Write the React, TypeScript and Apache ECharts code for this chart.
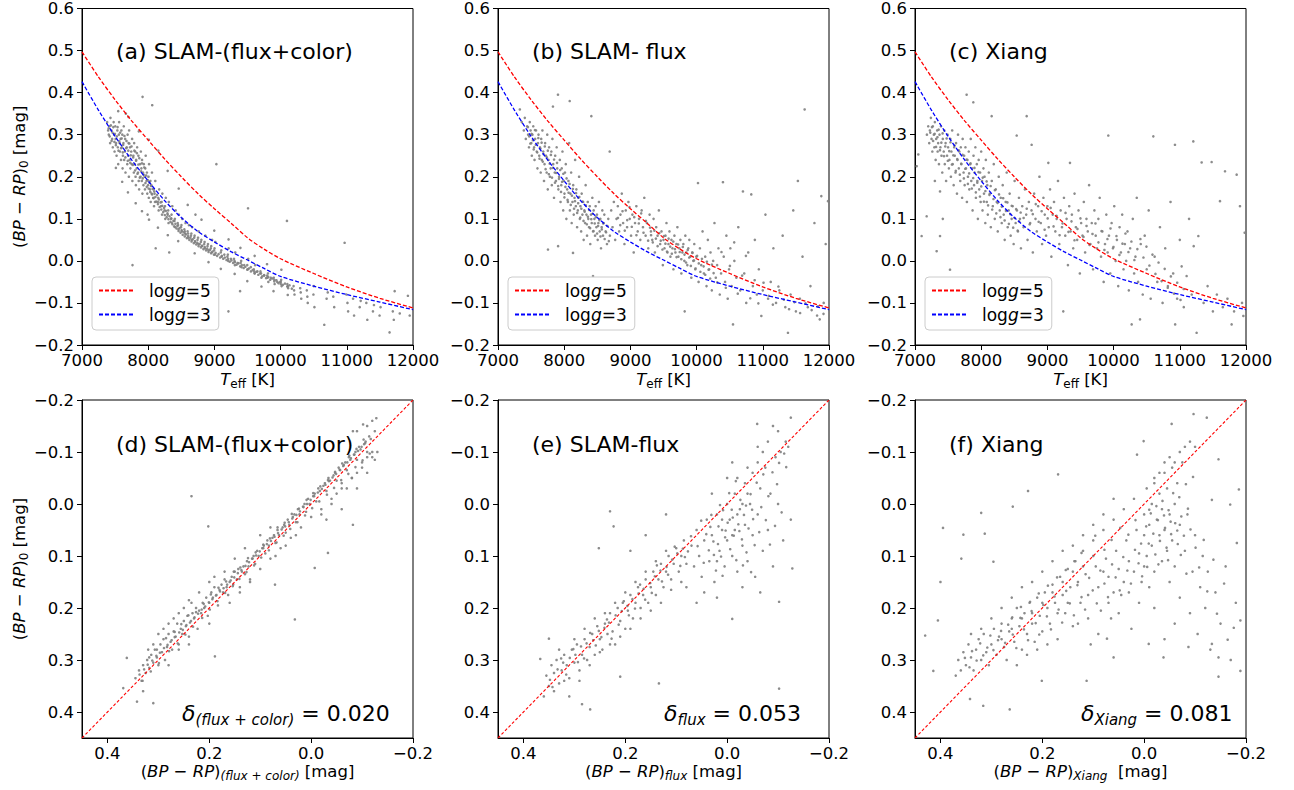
import React, { useEffect, useRef } from "react";
import * as echarts from "echarts";

const FONT = "'DejaVu Sans', Verdana, sans-serif";

// ---- axis ticks ----
const teffTicks = [7000, 8000, 9000, 10000, 11000, 12000];
const topColorTicks = [-0.2, -0.1, 0, 0.1, 0.2, 0.3, 0.4, 0.5, 0.6];
const botYTicks = [-0.2, -0.1, 0, 0.1, 0.2, 0.3, 0.4];
const botXTicks = [-0.2, 0, 0.2, 0.4];

// ---- model curves ----
const curveTeff = [7000, 7250, 7500, 7750, 8000, 8250, 8500, 8750, 9000, 9250, 9500, 9750, 10000, 10500, 11000, 11500, 12000];
const logg5Color = [0.497, 0.437, 0.383, 0.333, 0.287, 0.242, 0.2, 0.16, 0.124, 0.09, 0.055, 0.028, 0.005, -0.03, -0.062, -0.089, -0.112];
const logg3Color = [0.426, 0.358, 0.296, 0.24, 0.19, 0.143, 0.103, 0.07, 0.045, 0.022, 0.002, -0.018, -0.037, -0.06, -0.08, -0.098, -0.116];
const diagX = [0.45, -0.2];
const diagY = [0.45, -0.2];

// ---- panel texts ----
const panelTitles = ["(a) SLAM-(flux+color)", "(b) SLAM- flux", "(c) Xiang", "(d) SLAM-(flux+color)", "(e) SLAM-flux", "(f) Xiang"];
const deltaSubs = ["(flux + color)", "flux", "Xiang"];
const deltaValues = ["0.020", "0.053", "0.081"];
const xSubs = ["(flux + color)", "flux", "Xiang"];

// ---- (a) SLAM-(flux+color): [Teff, (BP-RP)0] ----
const scatterA = [
  [7380,.33],[7395,.31],[7405,.30],[7415,.32],[7425,.28],[7430,.34],[7445,.31],[7455,.29],[7465,.27],[7478,.33],[7485,.30],[7492,.26],[7503,.32],[7508,.29],[7515,.28],[7522,.25],[7534,.31],[7541,.27],[7547,.23],[7556,.30],[7561,.33],[7568,.28],[7574,.26],[7583,.29],[7589,.24],[7595,.31],[7604,.27],[7609,.30],[7613,.22],[7618,.25],[7626,.28],[7631,.32],[7637,.24],[7648,.26],[7652,.29],[7657,.21],[7663,.35],[7676,.27],[7684,.23],[7689,.30],[7697,.25],[7703,.28],[7708,.20],[7712,.31],[7719,.24],[7725,.27],[7731,.22],[7744,.26],[7752,.23],[7757,.29],[7761,.19],[7763,-.01],[7776,.25],[7783,.21],[7788,.28],[7796,.23],[7804,.26],[7809,.20],[7814,.18],[7818,.24],[7826,.22],[7833,.27],[7846,.21],[7852,.25],[7857,.19],[7863,.17],[7877,.23],[7884,.20],[7889,.26],[7897,.22],[7903,.19],[7907,.24],[7912,.16],[7915,.39],[7922,.21],[7928,.18],[7934,.23],[7946,.20],[7951,.17],[7956,.22],[7962,.25],[7975,.19],[7981,.21],[7986,.16],[7991,.11],[7998,.18],[8004,.20],[8009,.15],[8013,.23],[8027,.17],[8033,.19],[8038,.14],[8048,.18],[8052,.16],[8057,.21],[8061,.37],[8076,.15],[8083,.17],[8088,.13],[8096,.16],[8103,.14],[8107,.19],[8113,.03],[8145,.14],[8152,.15],[8158,.12],[8166,.17],[8195,.13],[8203,.14],[8209,.11],[8214,.16],[8246,.12],[8253,.13],[8258,.10],[8266,.15],[8294,.11],[8302,.12],[8307,.09],[8312,.14],[8318,.02],[8345,.10],[8353,.11],[8358,.09],[8364,.13],[8396,.095],[8403,.10],[8408,.08],[8415,.12],[8446,.09],[8452,.085],[8457,.075],[8463,.11],[8496,.08],[8502,.085],[8507,.07],[8514,.10],[8546,.075],[8553,.07],[8558,.065],[8564,.09],[8595,.07],[8603,.065],[8608,.055],[8615,.085],[8646,.06],[8652,.065],[8657,.05],[8664,.08],[8695,.055],[8701,.06],[8708,.045],[8714,.11],[8745,.05],[8753,.055],[8758,.04],[8764,.07],[8796,.045],[8803,.05],[8809,.035],[8846,.04],[8852,.045],[8858,.03],[8864,.06],[8896,.035],[8903,.04],[8909,.025],[8946,.03],[8952,.035],[8958,.02],[8965,.05],[8996,.025],[9002,.03],[9008,.015],[9014,.045],[9030,.23],[9096,.02],[9104,.025],[9110,.01],[9150,.015],[9196,.01],[9203,.015],[9208,.0],[9212,-.12],[9215,.03],[9250,.005],[9296,.005],[9303,.0],[9309,-.01],[9315,.02],[9350,-.005],[9388,-.072],[9396,-.005],[9404,.0],[9410,-.015],[9450,-.01],[9496,-.01],[9503,-.02],[9508,.125],[9511,.005],[9550,-.015],[9596,-.02],[9603,-.025],[9609,-.03],[9615,-.01],[9650,-.025],[9696,-.025],[9704,-.03],[9710,-.04],[9750,-.035],[9796,-.035],[9803,-.04],[9809,-.03],[9815,-.05],[9850,-.04],[9896,-.04],[9904,-.045],[9910,-.055],[9950,-.05],[9996,-.05],[10003,-.055],[10009,-.045],[10015,-.06],[10096,.095],[10102,-.055],[10108,-.06],[10114,-.065],[10196,-.06],[10204,-.07],[10210,-.08],[10296,-.065],[10304,-.075],[10312,-.09],[10396,-.07],[10404,-.085],[10410,-.1],[10496,-.08],[10503,-.06],[10511,-.11],[10660,-.152],[10695,-.09],[10712,-.075],[10796,-.085],[10810,-.11],[10967,.043],[10995,-.08],[11010,-.1],[11020,-.12],[11095,-.09],[11110,-.13],[11195,-.11],[11210,-.095],[11295,-.1],[11310,-.14],[11395,-.12],[11410,-.105],[11495,-.13],[11510,-.11],[11646,-.17],[11695,-.12],[11710,-.14],[11723,-.072],[11800,-.125],[11923,-.083],[11950,-.13]
];
const denseA = [
  [7402,.315],[7418,.296],[7436,.322],[7447,.285],[7461,.305],[7473,.318],[7489,.283],[7497,.302],[7512,.275],[7527,.296],[7538,.318],[7551,.262],[7563,.284],[7577,.305],[7591,.268],[7599,.291],[7616,.258],[7622,.276],[7641,.297],[7655,.246],[7668,.268],[7672,.285],[7691,.238],[7699,.262],[7716,.279],[7729,.233],[7737,.251],[7748,.272],[7769,.228],[7773,.246],[7791,.262],[7802,.215],[7817,.238],[7829,.256],[7838,.207],[7851,.229],[7866,.244],[7873,.198],[7893,.213],[7906,.232],[7917,.196],[7931,.205],[7941,.222],[7958,.185],[7969,.203],[7978,.176],[7994,.192],[8007,.172],[8019,.186],[8031,.164],[8043,.178],[8059,.158],[8068,.171],[8081,.149],[8092,.165],[8109,.152],[8121,.141],[8134,.157],[8147,.135],[8161,.146],[8173,.128],[8186,.139],[8198,.122],[8212,.131],[8227,.116],[8239,.126],[8251,.109],[8268,.119],[8279,.104],[8291,.113],[8306,.099],[8322,.106],[8336,.093],[8349,.101],[8367,.087],[8381,.095],[8392,.082],[8411,.088],[8428,.077],[8441,.083],[8459,.071],[8473,.078],[8488,.067],[8505,.073],[8521,.062],[8536,.068],[8552,.058],[8569,.063],[8584,.054],[8602,.059],[8621,.05],[8637,.055],[8655,.046],[8672,.051],[8689,.042],[8707,.047],[8726,.039],[8741,.043],[8761,.035],[8779,.04],[8797,.032],[8816,.036],[8834,.028],[8853,.033],[8874,.025],[8891,.029],[8912,.021],[8933,.026],[8951,.018],[8972,.022],[8993,.015],[9018,.019],[9041,.012],[9063,.016],[9087,.008],[9112,.012],[9134,.005],[9158,.008],[9183,.002],[9207,.005],[9232,-.002],[9258,.001],[9283,-.005],[9309,-.003],[9335,-.009],[9362,-.006],[9389,-.013],[9415,-.01],[9442,-.017],[9468,-.014],[9497,-.021],[9523,-.018],[9552,-.025],[9578,-.022],[9607,-.029],[9636,-.026],[9664,-.033],[9693,-.03],[9722,-.037],[9752,-.034],[9781,-.041],[9812,-.038],[9843,-.045],[9873,-.042],[9905,-.049],[9936,-.046],[9968,-.053],[10001,-.05],[10034,-.057],[10066,-.054],[10101,-.061],[10135,-.058],[10170,-.066],
  [7512,.221],[7607,.188],[7694,.163],[7811,.137],[7906,.118],[8012,.098],[8147,.079],[8296,.061],[8453,.047],[7547,.356],[7703,.342],[7858,.308],[8009,.288],[8153,.262],[8294,.214],[8461,.172],[8597,.133],[8805,.098],[8998,.072],[9214,.051],[9393,.031],[9608,.012],[9795,-.008],[10012,-.021],[8702,.018],[8911,-.003],[9097,-.019],[9306,-.031],[9497,-.048],[9711,-.061],[9893,-.072],[10108,-.081]
];

// ---- (b) SLAM-flux: [Teff, (BP-RP)0] ----
const scatterB = [
  [7330,.36],[7360,.33],[7390,.31],[7405,.34],[7420,.29],[7440,.32],[7455,.30],[7468,.27],[7480,.33],[7492,.31],[7503,.28],[7511,.25],[7520,.30],[7533,.32],[7545,.27],[7552,.24],[7561,.29],[7574,.31],[7585,.26],[7596,.22],[7604,.28],[7612,.30],[7623,.25],[7634,.27],[7645,.21],[7653,.29],[7662,.24],[7671,.31],[7684,.26],[7695,.19],[7703,.23],[7712,.28],[7724,.25],[7735,.21],[7744,.30],[7752,.17],[7755,.027],[7763,.24],[7772,.27],[7784,.20],[7795,.22],[7806,.26],[7813,.18],[7822,.29],[7830,.367],[7834,.23],[7846,.15],[7857,.21],[7864,.25],[7875,.19],[7886,.27],[7895,.22],[7906,.395],[7908,.035],[7912,.17],[7923,.20],[7934,.24],[7945,.14],[7956,.18],[7963,.22],[7974,.26],[7985,.12],[7993,.19],[8004,.16],[8012,.21],[8024,.23],[8033,.10],[8045,.17],[8056,.14],[8064,.19],[8075,.28],[8083,.38],[8086,.12],[8094,.16],[8105,.21],[8113,.09],[8125,.14],[8133,.019],[8136,.18],[8144,.11],[8156,.15],[8165,.24],[8176,.13],[8184,.17],[8195,.08],[8206,.12],[8214,.15],[8225,.20],[8236,.10],[8245,.13],[8256,.07],[8264,.16],[8275,.11],[8286,.14],[8294,.05],[8305,.12],[8316,.09],[8324,.18],[8336,.11],[8345,.06],[8356,.14],[8364,.10],[8375,.08],[8386,.13],[8394,.04],[8405,.11],[8410,.344],[8416,.09],[8425,.15],[8435,-.036],[8436,.07],[8445,.12],[8456,.10],[8466,.06],[8475,.13],[8486,.08],[8495,.11],[8506,.05],[8516,.09],[8525,.14],[8536,.07],[8546,.10],[8556,.03],[8566,.08],[8576,.12],[8586,.06],[8596,.09],[8606,.11],[8626,.07],[8646,.04],[8666,.10],[8687,.26],[8690,.06],
  [8710,.12],[8730,.08],[8750,.14],[8770,.05],[8790,.10],[8810,.13],[8830,.07],[8850,.11],[8870,.16],[8890,.09],[8910,.04],[8930,.12],[8950,.08],[8970,.14],[8990,.10],[9010,.06],[9030,.11],[9050,.02],[9070,.09],[9090,.13],[9110,.07],[9130,.10],[9150,.05],[9170,.12],[9190,.08],[9210,.15],[9230,.06],[9250,.09],[9270,.03],[9290,.11],[9310,.07],[9330,.05],[9350,.10],[9370,.02],[9390,.08],[9410,.06],[9430,.12],[9450,.04],[9470,.07],[9490,-.01],[9500,.05],[9515,.03],[9530,.06],[9545,.09],[9560,.02],[9575,.04],[9590,.07],[9605,.01],[9620,.05],[9635,.03],[9650,-.02],[9665,.06],[9680,.02],[9695,.04],[9710,.08],[9725,.01],[9740,.03],[9755,.05],[9770,-.03],[9785,.02],[9800,.04],[9815,.0],[9820,-.12],[9830,.06],[9845,.02],[9860,-.01],[9875,.03],[9890,.05],[9905,.01],[9920,-.04],[9935,.02],[9950,.0],[9965,.04],[9980,-.02],[9996,.01],[10021,.185],[10030,-.05],[10050,.03],[10070,-.01],[10090,.07],[10110,-.03],[10130,.01],[10150,-.06],[10170,.05],[10190,-.02],[10210,.02],[10230,-.07],[10250,.0],[10270,.09],[10290,-.04],[10310,-.01],[10330,.03],[10350,-.08],[10370,-.03],[10398,.187],[10410,.01],[10430,-.05],[10450,.06],[10470,-.09],[10490,-.02],[10510,.03],[10530,-.06],[10550,-.151],[10570,.0],[10600,-.04],[10630,.08],[10660,-.07],[10700,.165],[10720,-.03],[10750,-.1],[10780,.02],[10826,.158],[10850,-.06],[10880,.05],[10910,-.08],[10940,-.02],[10978,-.131],[11000,-.07],[11040,.11],[11080,-.09],[11120,-.05],[11160,.03],[11200,-.1],[11250,-.07],[11300,.06],[11340,-.11],[11380,-.171],[11420,-.08],[11460,.12],[11500,-.12],[11530,.19],[11560,-.09],[11600,.01],[11632,.36],[11680,-.11],[11720,-.06],[11780,.09],[11820,-.13],[11860,-.139],[11884,.154],[11920,-.1],[11950,.04],[11985,.142]
];
const denseB = [
  [7452,.318],[7471,.296],[7488,.279],[7506,.302],[7527,.287],[7539,.265],[7558,.311],[7571,.276],[7593,.258],[7609,.292],[7627,.243],[7641,.267],[7659,.281],[7676,.236],[7688,.254],[7707,.272],[7719,.218],[7738,.246],[7753,.262],[7768,.206],[7781,.231],[7799,.252],[7816,.198],[7829,.221],[7847,.241],[7861,.186],[7878,.209],[7892,.233],[7909,.178],[7921,.195],[7939,.216],[7952,.164],[7968,.188],[7987,.207],[8003,.151],[8018,.176],[8036,.196],[8051,.145],[8066,.162],[8081,.183],[8099,.133],[8117,.155],[8131,.171],[8149,.124],[8163,.142],[8179,.161],[8196,.114],[8211,.137],[8228,.152],[8243,.103],[8259,.124],[8277,.141],[8292,.095],[8309,.117],[8327,.132],[8342,.087],[8358,.105],[8377,.121],[8392,.078],[8409,.099],[8428,.112],[8443,.071],[8461,.089],[8479,.104],[8497,.065],[8512,.083],[8531,.097],[8548,.058],[8568,.075],[8589,.089],[8611,.052],[8633,.068],[8652,.083],[8674,.047],
  [9312,.061],[9338,.044],[9362,.072],[9385,.053],[9411,.035],[9437,.066],[9458,.048],[9484,.027],[9506,.059],[9529,.041],[9553,.022],[9577,.053],[9601,.034],[9626,.017],[9648,.046],[9673,.028],[9697,.009],[9721,.039],[9745,.021],[9769,.004],[9792,.033],[9817,.015],[9841,-.004],[9866,.026],[9888,.008],[9913,-.012],[9937,.019],[9961,.001],[9984,-.018],[10008,.012],[10033,-.006],[10057,-.026],[10081,.005],[10106,-.013],[10131,-.033],[10155,-.002],[10181,-.021],[10205,-.042],[10231,-.009],[10257,-.029],
  [8812,.102],[8847,.085],[8881,.118],[8915,.072],[8952,.097],[8986,.128],[9021,.081],[9058,.104],[9091,.061],[9127,.089],[9163,.113],[9198,.067],[9234,.095],[9268,.048],[9297,.079],
  [10312,-.051],[10376,.021],[10441,-.064],[10503,-.012],[10568,.044],[10622,-.078],[10688,-.035],[10745,.012],[10811,-.089],[10877,-.046],[10933,-.101],[11011,-.052],[11089,-.083],[11152,-.104],[11236,-.061],[11318,-.092],[11397,-.115],[11477,-.098],[11564,-.124],[11646,-.101],[11738,-.117],[11834,-.108],[11917,-.126]
];

// ---- (c) Xiang: [Teff, (BP-RP)0] ----
const scatterC = [
  [7025,.225],[7050,.253],[7100,.059],[7176,.106],[7300,.19],[7327,.023],[7378,.059],[7378,.165],[7420,.10],[7529,-.021],
  [7180,.30],[7200,.32],[7215,.28],[7225,.31],[7240,.34],[7250,.29],[7262,.26],[7270,.32],[7285,.30],[7292,.27],[7300,.33],[7312,.24],[7320,.29],[7335,.31],[7342,.26],[7350,.28],[7362,.23],[7370,.30],[7384,.27],[7392,.32],[7400,.25],[7412,.21],[7420,.29],[7434,.26],[7442,.31],[7450,.23],[7462,.28],[7470,.19],[7484,.25],[7492,.30],[7500,.27],[7512,.22],[7520,.24],[7534,.29],[7542,.20],[7550,.26],[7562,.31],[7570,.23],[7584,.18],[7592,.27],[7600,.25],[7612,.21],[7620,.28],[7634,.16],[7642,.24],[7650,.30],[7662,.22],[7670,.26],[7684,.19],[7692,.27],[7700,.23],[7712,.15],[7720,.29],[7734,.21],[7742,.25],[7750,.18],[7762,.27],[7770,.22],[7780,.395],[7784,.14],[7792,.24],[7800,.20],[7812,.26],[7820,.17],[7834,.23],[7842,.29],[7850,.19],[7862,.22],[7870,.12],[7881,.377],[7884,.25],[7892,.18],[7900,.21],[7912,.27],[7920,.15],[7934,.23],[7942,.19],[7950,.10],[7962,.24],[7970,.17],[7984,.21],[7992,.14],[8000,.26],[8012,.19],[8020,.12],[8034,.22],[8042,.16],[8050,.20],[8062,.09],[8070,.24],[8084,.14],[8092,.18],[8100,.11],[8115,.21],[8130,.16],[8145,.08],[8158,.344],[8160,.19],[8175,.13],[8190,.23],[8205,.10],[8220,.17],[8235,.14],[8250,.07],[8265,.20],[8280,.12],[8295,.15],[8310,.09],[8325,.18],[8340,.11],[8355,.05],[8370,.14],[8385,.21],[8400,.08],[8415,.12],[8430,.16],[8445,.06],[8460,.10],[8475,.13],[8490,.04],[8505,.19],[8520,.09],[8536,.298],[8540,.12],[8555,.07],[8570,.15],[8585,.10],[8600,.03],
  [8620,.13],[8640,.08],[8660,.17],[8680,.11],[8687,.344],[8700,.05],[8720,.14],[8740,.09],[8760,.12],[8762,.276],[8780,.02],[8800,.16],[8820,.10],[8840,.07],[8860,.13],[8880,.20],[8900,.09],[8920,.04],[8940,.15],[8960,.11],[8980,.06],[9000,.13],[9014,.233],[9020,.08],[9040,.17],[9060,.01],[9080,.11],[9100,.14],[9120,.07],[9140,.10],[9160,.19],[9180,.04],[9200,.12],[9220,.08],[9240,-.12],[9250,.15],[9270,.06],[9290,.10],[9310,-.01],[9330,.13],[9341,.233],[9350,.07],[9370,.11],[9390,.03],[9410,.16],[9430,.08],[9450,.05],[9470,.12],[9490,-.03],[9510,.09],[9530,.06],[9550,.14],[9570,.02],[9590,.10],[9610,.07],[9630,.18],[9650,.04],[9670,.09],[9690,-.02],[9710,.12],[9730,.06],[9750,.03],[9770,.10],[9790,.15],[9810,.01],[9830,.07],[9850,-.05],[9870,.04],[9890,.11],[9910,.02],[9920,.298],[9930,.06],[9950,-.03],[9970,.09],[9990,.03],[10010,.13],[10030,.0],[10050,.05],[10070,-.06],[10090,.08],[10110,.02],[10130,.11],[10150,-.02],[10170,.04],[10190,.0],[10210,.07],[10230,-.07],[10250,.03],[10273,-.151],[10290,.1],[10310,-.03],[10330,.01],[10350,.15],[10370,-.05],[10399,-.139],[10410,.04],[10440,-.08],[10470,.06],[10500,-.02],[10530,.12],[10560,-.09],[10600,.296],[10620,.01],[10660,-.05],[10700,.08],[10740,-.1],[10780,.03],[10820,-.06],[10860,.14],[10900,-.03],[10927,.276],[10930,-.151],[10960,-.09],[11000,.05],[11028,-.013],[11060,-.11],[11103,-.036],[11140,.1],[11180,-.08],[11204,.284],[11210,.035],[11254,-.171],[11280,.059],[11330,.234],[11360,-.1],[11420,-.06],[11481,.235],[11500,-.12],[11560,-.08],[11607,.142],[11650,-.11],[11683,.213],[11720,-.09],[11783,-.151],[11820,-.12],[11859,.205],[11909,.13],[11940,-.1],[11960,-.131],[11980,.067]
];
const denseC = [
  [7231,.305],[7256,.318],[7274,.285],[7297,.302],[7318,.271],[7339,.294],[7357,.312],[7377,.263],[7398,.281],[7417,.303],[7438,.249],[7457,.272],[7478,.291],[7496,.238],[7517,.261],[7536,.282],[7557,.229],[7578,.251],[7597,.274],[7616,.214],[7638,.242],[7659,.263],[7677,.205],[7698,.231],[7719,.252],[7738,.196],[7759,.219],[7778,.241],[7799,.183],[7818,.208],[7839,.232],[7858,.172],[7879,.197],[7898,.221],[7919,.163],[7941,.186],[7959,.211],[7981,.153],[8001,.177],[8023,.198],[8041,.141],[8063,.166],[8082,.189],[8104,.132],[8124,.157],[8143,.178],[8166,.122],[8186,.147],[8207,.168],[8228,.113],[8248,.138],[8269,.158],[8291,.104],[8311,.129],[8332,.149],[8354,.096],[8374,.119],[8396,.139],[8418,.088],[8439,.111],[8461,.131],[8483,.079],[8505,.102],[8528,.123],[8551,.072],[8573,.094],[8596,.115],
  [8641,.102],[8688,.124],[8732,.087],[8779,.111],[8824,.135],[8868,.093],[8913,.118],[8958,.074],[9004,.101],[9049,.126],[9093,.082],[9139,.107],[9184,.061],[9229,.089],[9274,.114],[9318,.069],[9364,.094],[9409,.049],[9454,.076],[9499,.101],[9545,.057],[9591,.083],[9636,.038],[9681,.064],[9726,.089],[9771,.044],[9817,.071],[9861,.026],[9907,.052],[9953,.077],[9998,.033],[10043,.059],[10088,.014],[10134,.041],[10179,.065],[10224,.021],[10269,.046],[10314,.002],[10359,.028],[10405,.052],[10451,.008],[10496,.034],[10541,-.011],[10587,.015],[10632,-.031],[10679,-.004],[10725,-.048],[10772,-.019],[10818,-.064],[10865,-.037],[10913,-.078],[10961,-.052],[11011,-.093],[11058,-.067]
];

// ---- (d) [(BP-RP)_(flux+color), (BP-RP)0] ----
const scatterD = [
  [.345,.335],[.338,.32],[.333,.34],[.330,.31],[.325,.325],[.322,.30],[.318,.315],[.314,.29],[.310,.305],[.307,.28],[.303,.295],[.300,.31],[.296,.27],[.293,.285],[.290,.26],[.287,.30],[.283,.275],[.280,.25],[.276,.265],[.273,.28],[.270,.245],[.266,.255],[.263,.23],[.260,.27],[.256,.24],[.253,.25],[.250,.225],[.246,.235],[.243,.215],[.240,.255],[.236,.225],[.233,.21],[.230,.22],[.226,.20],[.223,.24],[.220,.205],[.216,.21],[.213,.19],[.210,.20],[.206,.18],[.203,.215],[.200,.19],[.196,.17],[.193,.18],[.190,.16],[.186,.175],[.183,.195],[.180,.165],[.176,.155],[.173,.17],[.170,.145],[.166,.16],[.163,.175],[.160,.15],[.156,.14],[.153,.155],[.150,.13],[.146,.145],[.143,.125],[.140,.16],[.136,.13],[.133,.12],[.130,.135],[.126,.11],[.123,.12],[.120,.145],[.116,.105],[.113,.10],[.110,.115],[.106,.09],[.103,.10],[.100,.125],[.096,.085],[.093,.08],[.090,.095],[.086,.07],[.083,.08],[.080,.105],[.076,.065],[.073,.06],[.070,.075],[.066,.05],[.063,.06],[.060,.085],[.056,.045],[.053,.04],[.050,.055],[.046,.03],[.043,.04],[.040,.065],[.036,.025],[.033,.02],[.030,.035],[.026,.01],[.023,.02],[.020,.045],[.016,.005],[.013,.0],[.010,.015],[.006,-.01],[.003,.0],[.000,.025],[-.004,-.015],[-.007,-.02],[-.010,-.005],[-.014,-.03],[-.017,-.025],[-.020,.01],[-.024,-.035],[-.027,-.04],[-.030,-.025],[-.034,-.05],[-.037,-.045],[-.040,-.01],[-.044,-.055],[-.047,-.06],[-.050,-.045],[-.054,-.07],[-.057,-.065],[-.060,-.03],[-.064,-.075],[-.067,-.08],[-.070,-.065],[-.074,-.09],[-.077,-.085],[-.080,-.05],[-.084,-.095],[-.087,-.10],[-.090,-.085],[-.094,-.11],[-.097,-.105],[-.100,-.07],[-.104,-.115],[-.107,-.12],[-.110,-.10],[-.114,-.13],[-.117,-.125],[-.120,-.09],[-.125,-.14],[-.128,-.165],
  [.30,.25],[.28,.23],[.26,.21],[.25,.20],[.235,.19],[.22,.17],[.20,.15],[.19,.14],[.17,.13],[.15,.105],[.13,.085],[.10,.06],[.08,.045],[.24,.185],[.27,.22],[.31,.27],[.32,.28],[.29,.24],
  [.235,-.015],[.202,.043],[.071,.155],[.189,.293],[.31,.383],[.362,.296],[.369,.354],[.342,.38],[.032,.222],[-.007,.123],[-.033,.094],[-.082,.04],
  [-.02,.02],[-.04,.0],[-.05,-.02],[-.06,.01],[-.07,-.03],[-.08,-.05],[-.09,-.06],[-.10,-.08],[-.11,-.09],[-.12,-.1],[-.13,-.1],[-.03,.03],[-.06,-.04],[-.09,-.03],[-.11,-.06],[-.125,-.085],[.03,.06],[.05,.08],[.07,.1],[.12,.15],[.16,.19],[.14,.17],[.20,.23],[.24,.27],[.26,.28],[.28,.31],[.33,.36],
  [-.082,-.14],[-.102,-.153],[-.11,-.15],[-.09,-.14],[-.12,-.16]
];
const denseD = [
  [.337,.328],[.328,.318],[.321,.309],[.312,.301],[.304,.292],[.297,.286],[.289,.277],[.282,.271],[.274,.262],[.268,.256],[.259,.247],[.252,.242],[.245,.233],[.238,.228],[.229,.218],[.222,.211],[.215,.203],[.208,.197],[.201,.189],[.194,.183],[.187,.176],[.179,.168],[.172,.162],[.165,.155],[.158,.147],[.151,.141],[.144,.133],[.137,.127],[.129,.119],[.122,.112],[.115,.105],[.108,.099],[.101,.091],[.094,.085],[.087,.077],[.079,.071],[.072,.063],[.065,.056],[.058,.049],[.051,.043],[.044,.035],[.037,.028],[.029,.021],[.022,.014],[.015,.006],[.008,.0],[.001,-.008],[-.006,-.015],[-.013,-.022],[-.021,-.029],[-.028,-.037],[-.035,-.044],[-.042,-.051],[-.049,-.058],[-.056,-.066],[-.063,-.073],[-.071,-.08],[-.078,-.088],[-.085,-.095],[-.092,-.102],[-.099,-.11],[-.106,-.117],
  [.318,.295],[.303,.28],[.285,.258],[.268,.246],[.255,.231],[.241,.214],[.226,.208],[.211,.192],[.197,.174],[.182,.161],[.167,.149],[.152,.13],[.139,.122],[.124,.104],[.109,.093],[.094,.078],[.081,.066],[.066,.045],[.052,.036],[.038,.019],[.024,.009],[.009,-.008],[-.004,-.021],[-.018,-.034],[-.033,-.046],[-.047,-.062],[-.061,-.078],[-.075,-.093],[-.089,-.106],[-.103,-.124],
  [.331,.34],[.315,.322],[.299,.306],[.279,.283],[.262,.268],[.247,.251],[.232,.236],[.214,.219],[.199,.203],[.184,.187],[.169,.171],[.154,.158],[.141,.144],[.127,.131],[.112,.118],[.098,.103],[.083,.089],[.068,.074],[.054,.061],[.041,.048],[.027,.035],[.012,.022],[-.002,.008],[-.016,-.005],[-.031,-.018],[-.045,-.031],[-.059,-.046],[-.073,-.058],[-.087,-.071],[-.101,-.084],[-.115,-.097]
];

// ---- (e) [(BP-RP)_flux, (BP-RP)0] ----
const scatterE = [
  [.355,.33],[.35,.35],[.345,.31],[.34,.325],[.335,.30],[.33,.345],[.325,.32],[.32,.29],[.315,.31],[.31,.335],[.305,.28],[.30,.305],[.295,.27],[.29,.32],[.285,.29],[.28,.26],[.275,.30],[.27,.275],[.265,.25],[.26,.29],[.255,.235],[.25,.26],[.245,.28],[.24,.23],[.235,.25],[.23,.21],[.225,.245],[.22,.27],[.215,.20],[.21,.225],[.205,.19],[.20,.24],[.195,.205],[.19,.175],[.185,.22],[.18,.19],[.175,.16],[.17,.20],[.165,.175],[.16,.145],[.155,.19],[.15,.16],[.145,.13],[.14,.175],[.135,.145],[.13,.115],[.125,.16],[.12,.13],[.115,.10],[.11,.145],[.105,.115],[.10,.085],[.095,.13],[.09,.10],[.085,.07],[.08,.115],
  [.34,.36],[.32,.34],[.30,.26],[.28,.24],[.26,.22],[.24,.21],[.22,.19],[.20,.17],[.18,.15],[.16,.13],[.14,.11],[.12,.09],[.33,.28],[.27,.31],[.25,.285],[.23,.27],[.21,.255],[.19,.24],[.17,.22],[.15,.205],[.13,.19],[.11,.165],[.09,.15],[.36,.37],[.31,.37],[.29,.34],
  [.07,.08],[.065,.12],[.06,.05],[.055,.10],[.05,.14],[.045,.07],[.04,.03],[.035,.11],[.03,.06],[.025,.15],[.02,.02],[.015,.09],[.01,.05],[.005,.12],[.0,.0],[.0,.07],[-.005,.03],[-.01,.10],[-.015,-.02],[-.015,.05],[-.02,.13],[-.025,.01],[-.03,.08],[-.035,-.04],[-.035,.04],[-.04,.11],[-.045,.0],[-.05,.06],[-.05,-.06],[-.055,.14],[-.06,.02],[-.065,-.03],[-.07,.09],[-.075,-.07],[-.08,.05],[-.085,-.02],[-.09,.12],[-.095,-.09],[-.1,.0],[-.105,-.1],[-.11,.07],[-.115,-.12],[-.12,-.11],[-.125,.03],[.02,.11],[.01,.03],[-.01,.06],[-.02,.02],[-.03,.0],[-.04,-.02],[.0,-.05],[-.01,-.08],[.03,-.02],[-.06,-.08],[-.07,-.1],[.045,.17],[.02,.18],[-.03,.16],[-.065,.17],[.08,.16],[.06,.19],
  [-.08,-.12],[-.1,-.14],[-.06,-.11],[-.09,-.15],[-.04,-.07],[-.02,-.05],
  [.23,.014],[.223,.043],[.252,.085],[.134,.345],[.21,.332],[-.102,.355],[-.01,.221],[-.102,.188],[-.128,.124],[-.059,-.154],[-.125,-.166],[.285,.385],[.269,.395],[.367,.298],[.35,.259],[.12,.02],[.16,.06],[.19,.09]
];
const denseE = [
  [.348,.338],[.333,.318],[.322,.305],[.309,.296],[.298,.29],[.287,.274],[.276,.268],[.263,.262],[.252,.244],[.241,.238],[.232,.228],[.219,.214],[.207,.206],[.196,.196],[.186,.183],[.174,.172],[.164,.163],[.151,.152],[.142,.139],[.131,.128],[.119,.121],[.108,.107],[.098,.095],[.087,.086],[.343,.352],[.326,.297],[.316,.328],[.302,.279],[.293,.304],[.281,.297],[.269,.248],[.258,.272],[.247,.256],[.236,.222],[.227,.259],[.213,.232],[.203,.187],[.193,.214],[.181,.201],[.171,.155],[.161,.184],[.148,.171],[.138,.118],[.128,.149],[.116,.136],[.103,.082],[.092,.119],[.083,.102],[.077,.091],[.071,.062],
  [.058,.081],[.051,.032],[.046,.113],[.041,.058],[.036,.089],[.031,.021],[.027,.072],[.022,.128],[.017,.043],[.012,.101],[.008,.012],[.004,.064],[-.001,.036],[-.006,.087],[-.009,.011],[-.013,.061],[-.018,.108],[-.022,.039],[-.026,-.008],[-.029,.068],[-.033,.021],[-.038,.093],[-.042,.047],[-.046,-.019],[-.051,.029],[-.054,.079],[-.058,-.041],[-.063,.054],[-.067,.006],[-.071,-.057],[-.076,.031],[-.081,-.015],[-.084,.078],[-.089,-.061],[-.094,.042],[-.098,-.038],[-.102,-.079],[-.107,.016],[-.112,-.097],[-.116,-.071],[.033,.044],[.018,.077],[.003,.051],[-.011,.026],[-.024,.052],[-.037,.003],[-.049,.011],[.014,.002],[-.004,-.021],[-.017,-.044],[.026,.098],[.009,.138],[-.031,.118],[-.047,.131]
];

// ---- (f) [(BP-RP)_Xiang, (BP-RP)0] ----
const scatterF = [
  [.37,.33],[.365,.30],[.36,.32],[.355,.285],[.35,.31],[.345,.27],[.34,.295],[.335,.32],[.33,.28],[.325,.26],[.32,.30],[.315,.25],[.31,.285],[.305,.31],[.30,.27],[.295,.24],[.29,.29],[.285,.255],[.28,.23],[.275,.275],[.27,.30],[.265,.245],[.26,.22],[.255,.265],[.25,.20],[.245,.235],[.24,.28],[.235,.21],[.23,.25],[.225,.19],[.22,.23],[.215,.265],[.21,.18],[.205,.215],[.20,.245],[.195,.17],[.19,.20],[.185,.23],[.18,.155],[.175,.19],[.17,.26],[.165,.14],[.16,.175],[.155,.21],[.15,.125],[.145,.16],[.14,.235],[.135,.11],[.13,.15],[.125,.19],[.12,.09],[.115,.135],[.11,.175],[.105,.27],[.10,.07],[.095,.12],[.09,.16],[.085,.205],[.08,.05],[.075,.105],[.07,.14],[.065,.22],[.06,.03],[.055,.09],[.05,.125],[.045,.175],[.04,.01],[.035,.07],[.03,.11],[.025,.24],[.02,-.01],[.015,.05],[.01,.095],[.005,.15],
  [.0,.02],[.0,.06],[-.005,-.03],[-.005,.10],[-.01,.04],[-.015,.0],[-.015,.08],[-.02,.13],[-.02,-.05],[-.025,.03],[-.03,.06],[-.03,-.02],[-.035,.11],[-.035,.01],[-.04,-.06],[-.04,.05],[-.045,.09],[-.045,-.03],[-.05,.02],[-.05,.15],[-.055,-.07],[-.055,.07],[-.06,.0],[-.06,.12],[-.065,-.04],[-.07,.04],[-.07,.18],[-.075,-.08],[-.08,.09],[-.085,.02],[-.09,.21],[-.095,.13],[-.1,.06],[-.105,.25],[-.11,.16],[-.115,.1],[-.12,.2],[-.125,.13],[-.13,.28],[-.14,.17],[-.15,.23],[-.16,.12],[-.17,.30],[-.18,.19],
  [.28,.20],[.26,.18],[.24,.16],[.22,.15],[.20,.13],[.18,.11],[.16,.09],[.14,.08],[.12,.06],[.10,.04],[.08,.02],[.06,-.01],[.30,.22],[.32,.24],[.34,.25],[.25,.31],[.23,.29],[.21,.28],[.19,.27],[.17,.21],[.15,.19],[.13,.23],[.11,.22],[.09,.25],[.07,.19],[.05,.21],[.03,.17],[.01,.19],[.02,.13],[.04,.15],[.06,.17],[.08,.13],[.10,.10],[.12,.12],[.14,.13],[.16,.15],[.18,.17],[.20,.19],[.22,.21],[.24,.22],[.26,.24],[.28,.26],[.0,.12],[-.01,.16],[-.02,.2],[-.06,.23],[-.04,.26],
  [-.03,-.06],[-.05,-.09],[-.07,-.1],[-.06,-.08],[-.08,-.11],[-.09,-.12],[-.1,-.11],[-.02,-.04],[-.04,-.08],
  [.395,.046],[.4,.15],[.355,.059],[.32,.017],[.313,.057],[.258,.005],[.359,.105],[.296,.111],[.228,-.025],[.169,-.057],[.001,-.121],[.014,-.095],[-.097,-.173],[-.123,-.166],[-.054,-.154],[-.146,-.086],[-.186,-.028],[-.169,.001],[-.133,-.008],[-.182,.075],[-.189,.224],[-.189,.321],[-.146,.295],[-.146,.332],[-.133,.269],[-.087,.275],[-.038,.295],[-.009,.269],[.06,.295],[.073,.259],[.113,.34],[.201,.34],[.264,.395],[.316,.388],[.342,.375],[.414,.321],[.43,.253],[.405,.224]
];
const denseF = [
  [.352,.296],[.343,.314],[.338,.283],[.329,.301],[.322,.268],[.316,.291],[.308,.276],[.302,.253],[.296,.281],[.287,.262],[.281,.244],[.273,.267],[.267,.232],[.258,.251],[.251,.277],[.243,.219],[.236,.241],[.228,.262],[.221,.206],[.213,.229],[.206,.251],[.198,.194],[.191,.216],[.183,.241],[.176,.178],[.168,.203],[.161,.228],[.153,.167],[.146,.191],[.138,.214],[.131,.156],[.123,.179],[.116,.203],[.108,.142],[.101,.166],[.093,.191],[.086,.128],[.078,.153],[.071,.179],[.063,.116],[.056,.141],[.048,.166],[.041,.102],[.033,.128],[.026,.153],[.018,.088],[.011,.114],[.004,.139],
  [-.004,.043],[-.009,.076],[-.013,.018],[-.018,.057],[-.022,.097],[-.027,.031],[-.031,.071],[-.036,-.006],[-.041,.046],[-.044,.084],[-.048,.012],[-.053,.058],[-.057,-.021],[-.061,.037],[-.066,.077],[-.069,-.013],[-.073,.024],[-.078,.061],[-.082,-.038],[-.086,.009],[-.091,.049],[-.096,-.052],[-.01,.011],[-.024,.004],[-.039,.022],[-.052,.034],[-.065,.051],[-.028,.116],[-.047,.108],[-.006,.121],[-.072,.098],[-.083,.134],[-.101,.084],[-.108,.122],[-.117,.069],[-.124,.168],[-.136,.107],[-.143,.211],[-.157,.153],[-.164,.261],[-.176,.238],
  [.096,.061],[.078,.088],[.064,.069],[.047,.046],[.031,.059],[.017,.031],[.006,.076],[.123,.094],[.137,.11],[.154,.127],[.171,.141],[.189,.157],[.207,.172],[.224,.188],[.242,.198],[.259,.218]
];

const scatterSets = [
  scatterA.concat(denseA), scatterB.concat(denseB), scatterC.concat(denseC),
  scatterD.concat(denseD), scatterE.concat(denseE), scatterF.concat(denseF),
];

// ---- layout (pixels) ----
const colLeft = [82, 498, 915];
const rowTop = [7, 400];
const plotW = 331;
const plotH = 338;

function fmt1(v: number): string {
  const r = Math.round(v * 10) / 10;
  return (r < 0 ? "\u2212" : "") + Math.abs(r).toFixed(1);
}

const nameRich: any = {
  n: { fontSize: 16.5, fontFamily: FONT, color: "#000", lineHeight: 22 },
  i: { fontSize: 16.5, fontFamily: FONT, color: "#000", fontStyle: "italic", lineHeight: 22 },
  s: { fontSize: 12, fontFamily: FONT, color: "#000", lineHeight: 16, verticalAlign: "bottom" },
  e: { fontSize: 12, fontFamily: FONT, color: "#000", lineHeight: 14, verticalAlign: "bottom" },
  si: { fontSize: 12, fontFamily: FONT, color: "#000", fontStyle: "italic", lineHeight: 10, verticalAlign: "bottom" },
};

const labelStyle = { fontSize: 16.5, fontFamily: FONT, color: "#000" };
const lineAxis = { show: true, onZero: false, lineStyle: { color: "#000", width: 1 } };
const tickStyle = { show: true, inside: false, length: 5, lineStyle: { color: "#000", width: 1 } };

function buildOption() {
  const grid: any[] = [];
  const xAxis: any[] = [];
  const yAxis: any[] = [];
  const series: any[] = [];
  const graphic: any[] = [];

  for (let p = 0; p < 6; p++) {
    const row = p < 3 ? 0 : 1;
    const col = p % 3;
    grid.push({
      left: colLeft[col], top: rowTop[row], width: plotW, height: plotH,
      show: true, borderColor: "#000", borderWidth: 1, backgroundColor: "transparent",
    });

    if (row === 0) {
      xAxis.push({
        type: "value", gridIndex: p, min: 7000, max: 12000, interval: 1000,
        name: "{i|T}{e|eff}{n| [K]}", nameLocation: "middle", nameGap: 23,
        nameTextStyle: { rich: nameRich },
        axisLine: lineAxis, axisTick: { ...tickStyle, customValues: teffTicks },
        axisLabel: { ...labelStyle, margin: 7, customValues: teffTicks, formatter: (v: number) => String(Math.round(v)) },
        splitLine: { show: false },
      });
      yAxis.push({
        type: "value", gridIndex: p, min: -0.2, max: 0.6, interval: 0.1,
        name: col === 0 ? "{n|(}{i|BP}{n| \u2212 }{i|RP}{n|)}{s|0}{n| [mag]}" : "",
        nameLocation: "middle", nameGap: 50, nameRotate: 90,
        nameTextStyle: { rich: nameRich },
        axisLine: lineAxis, axisTick: { ...tickStyle, customValues: topColorTicks },
        axisLabel: { ...labelStyle, margin: 8, customValues: topColorTicks, formatter: fmt1 },
        splitLine: { show: false },
      });
    } else {
      const k = col;
      xAxis.push({
        type: "value", gridIndex: p, min: -0.2, max: 0.45, interval: 0.2, inverse: true,
        name: "{n|(}{i|BP}{n| \u2212 }{i|RP}{n|)}{si|" + xSubs[k] + "}{n|" + (k === 2 ? "  [mag]" : " [mag]") + "}",
        nameLocation: "middle", nameGap: 18,
        nameTextStyle: { rich: nameRich },
        axisLine: lineAxis, axisTick: { ...tickStyle, customValues: botXTicks },
        axisLabel: {
          ...labelStyle, margin: 7, customValues: botXTicks,
          formatter: (v: number) => (Math.abs(v - 0.45) < 1e-6 ? "" : fmt1(v)),
        },
        splitLine: { show: false },
      });
      yAxis.push({
        type: "value", gridIndex: p, min: -0.2, max: 0.45, interval: 0.1, inverse: true,
        name: col === 0 ? "{n|(}{i|BP}{n| \u2212 }{i|RP}{n|)}{s|0}{n| [mag]}" : "",
        nameLocation: "middle", nameGap: 50, nameRotate: 90,
        nameTextStyle: { rich: nameRich },
        axisLine: lineAxis, axisTick: { ...tickStyle, customValues: botYTicks },
        axisLabel: {
          ...labelStyle, margin: 8, customValues: botYTicks,
          formatter: (v: number) => (Math.abs(v - 0.45) < 1e-6 ? "" : fmt1(v)),
        },
        splitLine: { show: false },
      });
    }

    series.push({
      type: "scatter", xAxisIndex: p, yAxisIndex: p, data: scatterSets[p],
      symbol: "circle", symbolSize: 2.6, silent: true, z: 2,
      itemStyle: { color: "#808080", opacity: 0.9 },
    });

    if (row === 0) {
      series.push({
        type: "line", name: "logg=5", xAxisIndex: p, yAxisIndex: p,
        data: curveTeff.map((t, j) => [t, logg5Color[j]]),
        symbol: "none", showSymbol: false, smooth: 0.3, silent: true, z: 5,
        itemStyle: { color: "#ff0000" },
        lineStyle: { color: "#ff0000", width: 1.3, type: [4, 2] },
      });
      series.push({
        type: "line", name: "logg=3", xAxisIndex: p, yAxisIndex: p,
        data: curveTeff.map((t, j) => [t, logg3Color[j]]),
        symbol: "none", showSymbol: false, smooth: 0.3, silent: true, z: 5,
        itemStyle: { color: "#0000ff" },
        lineStyle: { color: "#0000ff", width: 1.3, type: [4, 2] },
      });
    } else {
      series.push({
        type: "line", name: "diag" + p, xAxisIndex: p, yAxisIndex: p,
        data: diagX.map((x, j) => [x, diagY[j]]),
        symbol: "none", showSymbol: false, silent: true, z: 5,
        itemStyle: { color: "#ff0000" },
        lineStyle: { color: "#ff0000", width: 1.1, type: [3, 2] },
      });
    }

    graphic.push({
      type: "text", x: colLeft[col] + 34, y: rowTop[row] + 44.5, silent: true, z: 10,
      style: {
        text: panelTitles[p], fontSize: 22, fontFamily: FONT, fill: "#000",
        align: "left", verticalAlign: "middle", textAlign: "left", textVerticalAlign: "middle",
      },
    });
  }

  const deltaLeft = [182, 664, 1081];
  for (let k = 0; k < 3; k++) {
    graphic.push({
      type: "text", x: deltaLeft[k], y: 713, silent: true, z: 10,
      style: {
        text: "{d|\u03b4}{s|" + deltaSubs[k] + "}{n| = " + deltaValues[k] + "}",
        align: "left", verticalAlign: "middle", textAlign: "left", textVerticalAlign: "middle",
        rich: {
          d: { fontSize: 22, fontFamily: FONT, fontStyle: "italic", fill: "#000", lineHeight: 28 },
          s: { fontSize: 15, fontFamily: FONT, fontStyle: "italic", fill: "#000", lineHeight: 18, verticalAlign: "bottom" },
          n: { fontSize: 22, fontFamily: FONT, fill: "#000", lineHeight: 28 },
        },
      },
    });
  }

  const legendLeft = [92, 508, 925];
  const legendRich = {
    p: { fontSize: 17, fontFamily: FONT, color: "#000", lineHeight: 20, padding: [0, 0, 0, 9] },
    a: { fontSize: 17, fontFamily: FONT, color: "#000", lineHeight: 20 },
    i: { fontSize: 17, fontFamily: FONT, color: "#000", fontStyle: "italic", lineHeight: 20 },
  };
  const legend = legendLeft.map((l) => ({
    left: l, top: 277, orient: "vertical",
    data: ["logg=5", "logg=3"],
    itemWidth: 36, itemHeight: 14, itemGap: 7,
    padding: [5, 8, 7, 6],
    backgroundColor: "rgba(255,255,255,0.8)", borderColor: "#cccccc", borderWidth: 1, borderRadius: 4,
    selectedMode: false,
    itemStyle: { opacity: 0 },
    formatter: (name: string) => "{p|log}{i|g}{a|" + name.slice(4) + "}",
    textStyle: { rich: legendRich },
    z: 20,
  }));

  return {
    animation: false,
    backgroundColor: "#ffffff",
    grid, xAxis, yAxis, series, graphic, legend,
  };
}

export default function App() {
  const ref = useRef<HTMLDivElement | null>(null);
  useEffect(() => {
    if (!ref.current) return;
    const chart = echarts.init(ref.current, undefined, { renderer: "svg" });
    chart.setOption(buildOption() as any);
    return () => chart.dispose();
  }, []);
  return (
    <div
      ref={ref}
      style={{ position: "absolute", left: 0, top: 0, width: 1294, height: 790, background: "#fff" }}
    />
  );
}
